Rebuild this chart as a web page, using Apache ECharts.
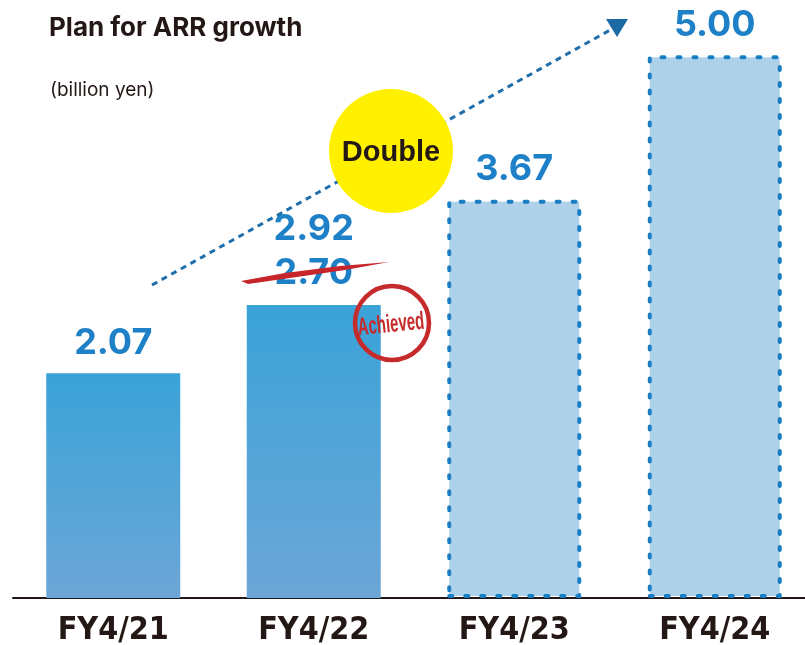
<!DOCTYPE html>
<html>
<head>
<meta charset="utf-8">
<script src="https://cdn.jsdelivr.net/npm/echarts@6/dist/echarts.min.js"></script>
<style>
  html, body { margin: 0; padding: 0; background: #fff; }
  #chart { width: 805px; height: 645px; }
</style>
</head>
<body>
<div id="chart"></div>
<script>
// data
const categories = ['FY4/21', 'FY4/22', 'FY4/23', 'FY4/24']
const planValues = [2.07, 2.70, 3.67, 5.00]
const actualValues = [2.07, 2.92, null, null]
const isForecast = [false, false, true, true]

const blue = '#1E80C6'
const numFont = 'Inter, "Noto Sans", sans-serif'

const chart = echarts.init(document.getElementById('chart'))

const solidFill = new echarts.graphic.LinearGradient(0, 0, 0, 1, [
  { offset: 0, color: '#3AA3D8' },
  { offset: 1, color: '#6CA6D7' }
])

const barData = planValues.map((v, i) => {
  if (isForecast[i]) {
    return {
      value: v,
      itemStyle: {
        color: '#AED1EA',
        borderColor: '#1A7EC4',
        borderWidth: 4,
        borderType: [3, 13],
        borderCap: 'round'
      }
    }
  }
  const item = { value: v, itemStyle: { color: solidFill } }
  // two stacked labels (actual over plan)
  if (actualValues[i] !== v) item.label = { distance: 10 }
  return item
})

const option = {
  animation: false,
  title: [
    {
      text: 'Plan for ARR growth',
      left: 44,
      top: 10,
      textStyle: { fontFamily: numFont, fontWeight: 'bold', fontSize: 26, color: '#231815' }
    },
    {
      text: '(billion yen)',
      left: 45,
      top: 76,
      textStyle: { fontFamily: numFont, fontWeight: 'normal', fontSize: 19, color: '#231815' }
    }
  ],
  grid: { left: 13, right: -10, top: 1, bottom: 47, outerBoundsMode: 'none' },
  xAxis: {
    type: 'category',
    data: categories,
    axisTick: { show: false },
    axisLine: { lineStyle: { color: '#231815', width: 2 } },
    axisLabel: {
      margin: 17,
      fontFamily: '"Liberation Sans Narrow", "DejaVu Sans Condensed", sans-serif',
      fontWeight: 'bold',
      fontSize: 32,
      color: '#231815'
    }
  },
  yAxis: {
    type: 'value',
    min: 0,
    max: 5.5,
    show: false,
    splitLine: { show: false }
  },
  series: [
    {
      type: 'bar',
      barWidth: 134,
      data: barData,
      label: {
        show: true,
        position: 'top',
        distance: 12,
        fontFamily: numFont,
        fontWeight: 'bold',
        fontSize: 36,
        color: blue,
        formatter: p => {
          const a = actualValues[p.dataIndex]
          if (a !== null && a !== p.value) {
            return '{b|' + a.toFixed(2) + '}\n{b|' + p.value.toFixed(2) + '}'
          }
          return p.value.toFixed(2)
        },
        rich: {
          b: { fontFamily: numFont, fontWeight: 'bold', fontSize: 36, color: blue, lineHeight: 44 }
        }
      }
    }
  ],
  graphic: [
    // dashed growth arrow
    {
      type: 'line',
      z: 10,
      shape: { x1: 152, y1: 285, x2: 612, y2: 29 },
      style: { stroke: '#1F6FAD', lineWidth: 3, lineDash: [6, 5] }
    },
    {
      type: 'polygon',
      z: 10,
      shape: { points: [[606, 19], [628, 19], [617, 37]] },
      style: { fill: '#1B6AA5' }
    },
    // Double badge
    {
      type: 'circle',
      z: 11,
      shape: { cx: 391, cy: 151, r: 62 },
      style: { fill: '#FFF000' }
    },
    {
      type: 'text',
      z: 12,
      x: 391,
      y: 153,
      style: {
        text: 'Double',
        align: 'center',
        verticalAlign: 'middle',
        font: 'bold 29px "Liberation Sans", Arial, sans-serif',
        fill: '#231815'
      }
    },
    // strike through the original plan
    {
      type: 'polygon',
      z: 12,
      shape: { points: [[241, 281], [285, 273], [340, 266], [389, 262], [345, 270], [290, 278], [248, 284]] },
      style: { fill: '#C8252B' }
    },
    // Achieved stamp
    {
      type: 'circle',
      z: 12,
      shape: { cx: 392, cy: 323, r: 37 },
      style: { fill: 'none', stroke: '#C62A2A', lineWidth: 4.5 }
    },
    {
      type: 'text',
      z: 13,
      x: 391,
      y: 325,
      rotation: 0.1,
      scaleX: 0.6,
      style: {
        text: 'Achieved',
        align: 'center',
        verticalAlign: 'middle',
        font: 'bold 25px "Liberation Sans Narrow", "Liberation Sans", sans-serif',
        fill: '#C62A2A'
      }
    }
  ]
}

chart.setOption(option)
</script>
</body>
</html>
